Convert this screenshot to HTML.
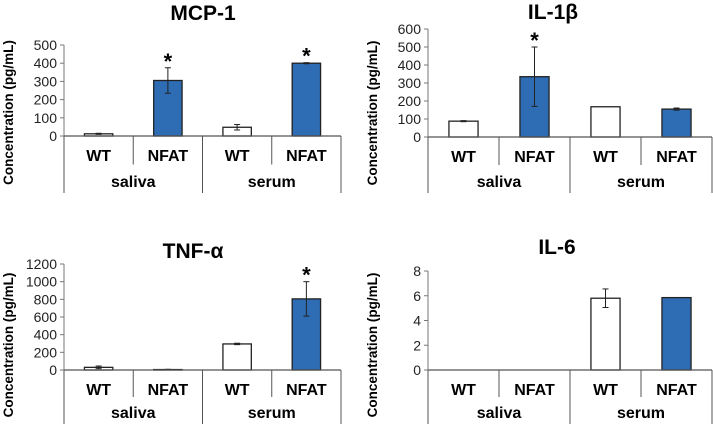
<!DOCTYPE html>
<html><head><meta charset="utf-8"><style>
body{margin:0;background:#fff;width:713px;height:427px;overflow:hidden}
svg{display:block;font-family:"Liberation Sans",Arial,sans-serif}
</style></head><body>
<svg id="c" width="713" height="427"></svg>
<script>
const categories = ["WT","NFAT","WT","NFAT"];
const groups = ["saliva","serum"];
const titles = ["MCP-1","IL-1β","TNF-α","IL-6"];
const mcpValues = [12,305,48,400];
const mcpErrors = [3,70,15,3];
const il1Values = [88,335,168,155];
const il1Errors = [3,165,0,6];
const tnfValues = [30,5,295,805];
const tnfErrors = [15,3,8,195];
const il6Values = [0,0,5.8,5.85];
const il6Errors = [0,0,0.75,0];
const mcpTicks = [0,100,200,300,400,500];
const il1Ticks = [0,100,200,300,400,500,600];
const tnfTicks = [0,200,400,600,800,1000,1200];
const il6Ticks = [0,2,4,6,8];
const mcpStars = [false,true,false,true];
const il1Stars = [false,true,false,false];
const tnfStars = [false,false,false,true];
const il6Stars = [false,false,false,false];

const NS="http://www.w3.org/2000/svg";
const svg=document.getElementById('c');
function mk(tag,attrs,parent,text){const e=document.createElementNS(NS,tag);for(const k in attrs)e.setAttribute(k,attrs[k]);if(text!==undefined)e.textContent=text;(parent||svg).appendChild(e);return e;}

const panels=[
 {key:"mcp",x0:64,x1:341,y0:136,yTop:45,titleY:20,titleX:203,bottom:193,values:mcpValues,errors:mcpErrors,ticks:mcpTicks,stars:mcpStars,t:0},
 {key:"il1b",x0:428,x1:712,y0:137,yTop:29,titleY:19,titleX:553,bottom:193,values:il1Values,errors:il1Errors,ticks:il1Ticks,stars:il1Stars,t:1},
 {key:"tnf",x0:64,x1:341,y0:370,yTop:264,titleY:258,titleX:193,bottom:424,values:tnfValues,errors:tnfErrors,ticks:tnfTicks,stars:tnfStars,t:2},
 {key:"il6",x0:428,x1:712,y0:370,yTop:271,titleY:254,titleX:557,bottom:424,values:il6Values,errors:il6Errors,ticks:il6Ticks,stars:il6Stars,t:3}
];

panels.forEach(p=>{
  const g=mk('g',{});
  
  
  const max=p.ticks[p.ticks.length-1];
  const ys=v=>p.y0-(v/max)*(p.y0-p.yTop);
  const cw=(p.x1-p.x0)/categories.length;
  const xs=i=>p.x0+cw*(i+0.5);
  const tt=mk('text',{x:p.titleX,y:p.titleY,'text-anchor':'middle','font-size':21,'font-weight':'bold'},g,titles[p.t]);
  
  
  const yl=mk('text',{transform:`translate(${p.x0-51},${(p.y0+p.bottom)/2-52}) rotate(-90)`,'text-anchor':'middle','font-size':13.5,'font-weight':'bold'},g,'Concentration (pg/mL)');
  
  
  p.ticks.forEach(t=>{
    const tl=mk('text',{x:p.x0-7,y:ys(t)+5,'text-anchor':'end','font-size':14,fill:'#222'},g,String(t));
    
    
    mk('line',{x1:p.x0-4,x2:p.x0,y1:ys(t),y2:ys(t),stroke:'#777'},g);
  });
  mk('line',{x1:p.x0,x2:p.x0,y1:p.yTop,y2:p.y0,stroke:'#777'},g);
  p.values.forEach((v,i)=>{
    const bw=cw*0.41;
    const top=ys(v);
    if(v>0){
      const r=mk('rect',{x:xs(i)-bw/2,y:top,width:bw,height:p.y0-top,fill:i%2?'#2e6db4':'#fff',stroke:'#222','stroke-width':1.3},g);
      
      
    }
    const e=p.errors[i];
    if(e>0){
      const eg=mk('g',{stroke:'#222','stroke-width':1},g);
      
      
      mk('line',{x1:xs(i),x2:xs(i),y1:ys(v+e),y2:ys(Math.max(0,v-e))},eg);
      mk('line',{x1:xs(i)-3,x2:xs(i)+3,y1:ys(v+e),y2:ys(v+e)},eg);
      mk('line',{x1:xs(i)-3,x2:xs(i)+3,y1:ys(Math.max(0,v-e)),y2:ys(Math.max(0,v-e))},eg);
    }
    if(p.stars[i]){
      const s=mk('text',{x:xs(i),y:ys(v+e)-7,'text-anchor':'middle','font-size':22,'font-weight':'bold'},g,'*');
      
      
      s.setAttribute('dy','8');
    }
  });
  mk('line',{x1:p.x0,x2:p.x1,y1:p.y0,y2:p.y0,stroke:'#555','stroke-width':1.2},g);
  const mid=p.y0+(p.bottom-p.y0)*0.5;
  for(let k=0;k<=4;k++){
    const x=p.x0+cw*k;
    const long=(k%2===0);
    mk('line',{x1:x,x2:x,y1:p.y0,y2:long?p.bottom:mid,stroke:'#555'},g);
  }
  categories.forEach((c,i)=>{
    const cl=mk('text',{x:xs(i),y:p.y0+25,'text-anchor':'middle','font-size':16,'font-weight':'bold'},g,c);
    
    
  });
  groups.forEach((gn,j)=>{
    const gl=mk('text',{x:p.x0+cw*(2*j+1),y:p.bottom-6,'text-anchor':'middle','font-size':16,'font-weight':'bold'},g,gn);
    
    
  });
});
</script>
</body></html>
